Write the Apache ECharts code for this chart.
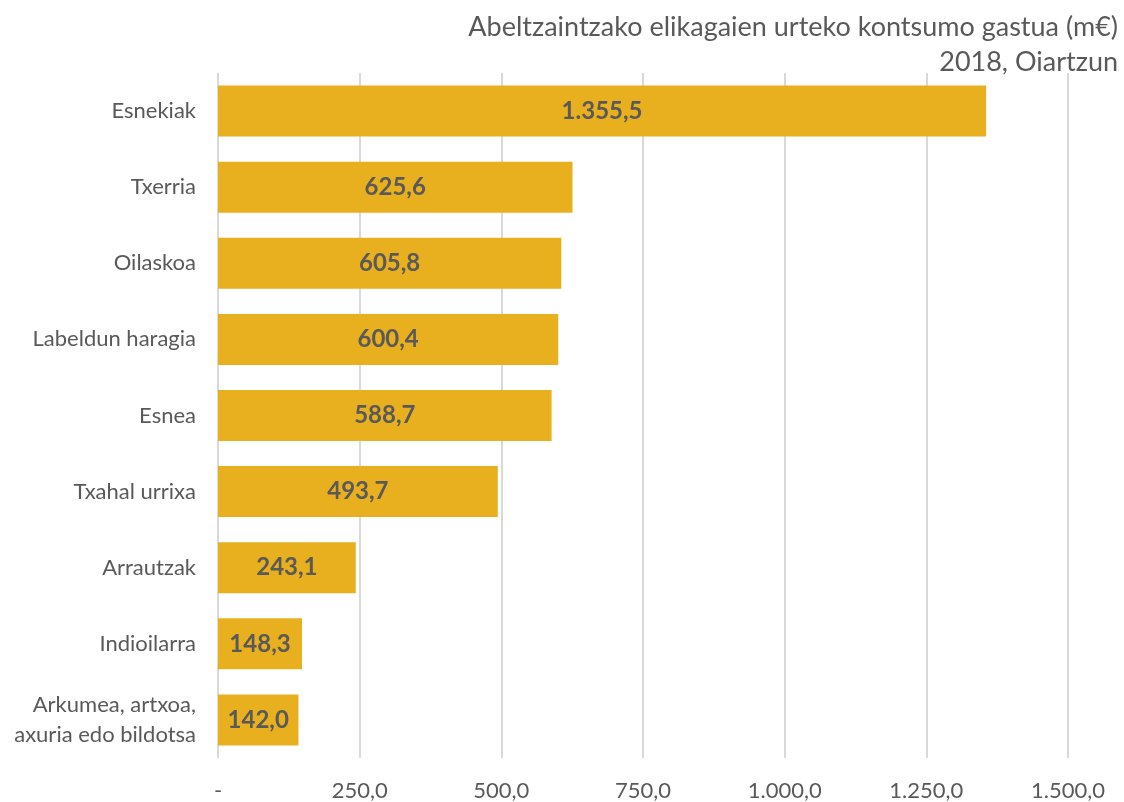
<!DOCTYPE html>
<html><head><meta charset="utf-8">
<script src="https://cdn.jsdelivr.net/npm/echarts@6/dist/echarts.min.js"></script>
<style>html,body{margin:0;padding:0;background:#fff}#c{width:1124px;height:802px}</style>
</head><body><div id="c"></div>
<script>
const categories = ["Esnekiak","Txerria","Oilaskoa","Labeldun haragia","Esnea","Txahal urrixa","Arrautzak","Indioilarra","Arkumea, artxoa,\naxuria edo bildotsa"];
const values = [1355.5,625.6,605.8,600.4,588.7,493.7,243.1,148.3,142.0];
const titleLines = ["Abeltzaintzako elikagaien urteko kontsumo gastua (m€)","2018, Oiartzun"];
const FONT = "Lato, 'Open Sans', sans-serif";
function fmt(v){
  if (v === 0) return "-";
  const parts = v.toFixed(1).split(".");
  const int = parts[0].replace(/\B(?=(\d{3})+(?!\d))/g, ".");
  return int + "," + parts[1];
}
const chart = echarts.init(document.getElementById('c'));
chart.setOption({
  animation:false,
  graphic:titleLines.map((t,i)=>({type:'text',right:6,top:14+i*35,
    style:{text:t,fontFamily:FONT,fontSize:27,fill:'#595959'}})),
  grid:{left:218,right:56,top:73,bottom:40,containLabel:false},
  xAxis:{type:'value',min:0,max:1500,interval:250,
    axisLine:{show:false},axisTick:{show:false},
    splitLine:{lineStyle:{color:'#D9D9D9',width:2}},
    axisLabel:{formatter:fmt,fontFamily:FONT,fontSize:22,color:'#595959',margin:22}},
  yAxis:{type:'category',data:categories,inverse:true,
    axisLine:{show:false},axisTick:{show:false},
    axisLabel:{fontFamily:FONT,fontSize:22,color:'#595959',margin:22,lineHeight:30,align:'right'}},
  series:[{type:'bar',data:values,barCategoryGap:'33%',
    itemStyle:{color:'#E8AF1F'},
    label:{show:true,position:'inside',formatter:p=>fmt(p.value),fontFamily:FONT,fontSize:24,fontWeight:'bold',color:'#595959'}}]
});
</script></body></html>
